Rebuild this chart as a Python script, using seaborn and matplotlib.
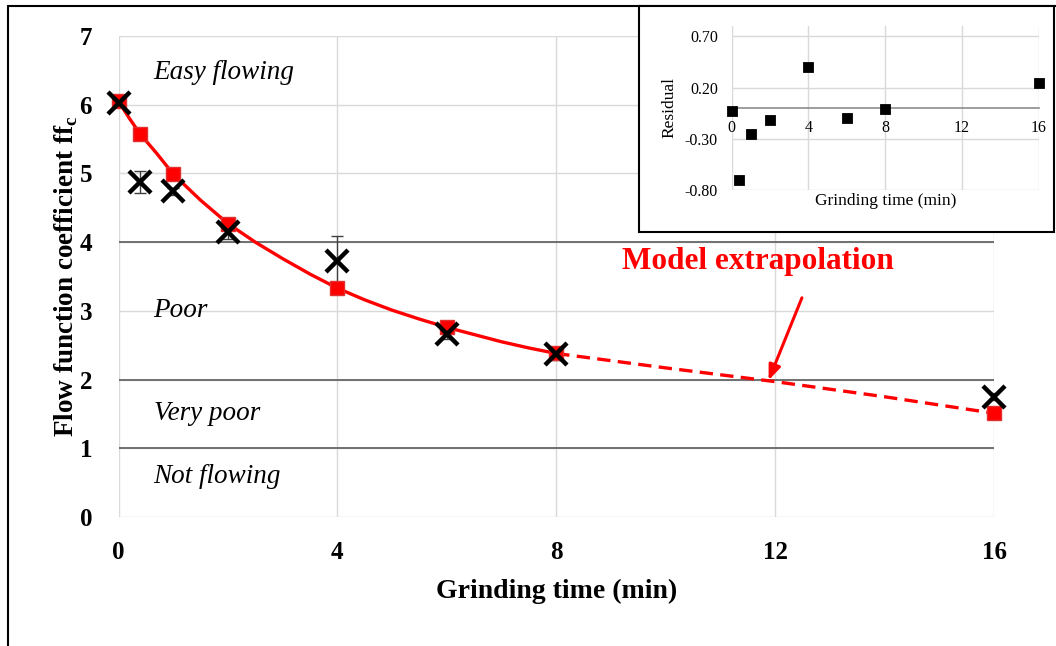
import matplotlib
matplotlib.use("Agg")
import matplotlib.pyplot as plt
from matplotlib.lines import Line2D
from matplotlib.patches import Rectangle
import seaborn as sns
import pandas as pd

# Datos
time_min = [0, 0.4, 1, 2, 4, 6, 8, 16]
ffc_measured = [6.02, 4.87, 4.74, 4.15, 3.73, 2.66, 2.37, 1.75]
ffc_err = [0.05, 0.16, 0.05, 0.10, 0.36, 0.07, 0.08, 0.05]
ffc_model = [6.05, 5.57, 4.99, 4.27, 3.33, 2.76, 2.38, 1.51]
residual = [-0.03, -0.70, -0.25, -0.12, 0.40, -0.10, -0.01, 0.24]

# curva del modelo y extrapolación
curve_t = [0, 0.2, 0.4, 0.7, 1, 1.5, 2, 2.5, 3, 3.5, 4, 4.5, 5, 5.5, 6, 6.5, 7, 7.5, 8]
curve_ffc = [6.05, 5.80, 5.57, 5.29, 4.99, 4.61, 4.27, 4.00, 3.76, 3.535, 3.33,
             3.16, 3.01, 2.88, 2.76, 2.655, 2.55, 2.46, 2.38]
extrap_t = [8, 10, 12, 14, 16]
extrap_ffc = [2.38, 2.17, 1.97, 1.75, 1.51]

regions = ["Easy flowing", "Poor", "Very poor", "Not flowing"]
region_y = [6.47, 3.01, 1.51, 0.59]
limits = [1, 2, 4]

df = pd.DataFrame({"t": time_min, "ffc": ffc_measured, "err": ffc_err,
                   "model": ffc_model, "res": residual})

sns.set_theme(style="white")
plt.rcParams["font.family"] = ["Liberation Serif", "DejaVu Serif"]
plt.rcParams["mathtext.fontset"] = "custom"
plt.rcParams["mathtext.rm"] = "Liberation Serif:bold"
for k in ["text.color", "axes.labelcolor", "xtick.color", "ytick.color"]:
    plt.rcParams[k] = "black"

fig = plt.figure(figsize=(10.56, 6.46), dpi=100)
W, H = 1056, 646
ax = fig.add_axes([118.5 / W, 1 - 517 / H, (994 - 118.5) / W, 481 / H])

ax.set_xlim(0, 16)
ax.set_ylim(0, 7)
ax.set_xticks([0, 4, 8, 12, 16])
ax.set_yticks(range(8))
ax.grid(True, color="#d9d9d9", lw=1.0)
for s in ax.spines.values():
    s.set_visible(False)
for y in limits:
    ax.axhline(y, color="#707070", lw=1.4, zorder=1)
ax.tick_params(length=0, labelsize=18)
ax.tick_params(axis="x", pad=17)
ax.tick_params(axis="y", pad=19)
for lab in ax.get_xticklabels() + ax.get_yticklabels():
    lab.set_fontweight("bold")

for name, y in zip(regions, region_y):
    ax.text(0.64, y, name, fontsize=19.5, style="italic", va="center", ha="left")

ax.errorbar(df["t"], df["ffc"], yerr=df["err"], fmt="none", ecolor="#404040",
            elinewidth=1.0, capsize=4, capthick=1.0, zorder=3)
sns.lineplot(x=curve_t, y=curve_ffc, ax=ax, color="red", lw=2.4, zorder=4)
ax.plot(extrap_t, extrap_ffc, color="red", lw=2.4, ls=(0, (4, 2.2)), zorder=4)
ax.plot(df["t"], df["model"], ls="none", marker="s", ms=10, color="red",
        mec="#e03030", zorder=5, clip_on=False)
ax.plot(df["t"], df["ffc"], ls="none", marker="x", ms=16, mew=3.2, color="black",
        zorder=6, clip_on=False)

ax.text(11.68, 3.72, "Model extrapolation", color="red", fontsize=22.5,
        fontweight="bold", ha="center", va="center")
ax.annotate("", xy=(11.88, 1.99), xytext=(12.49, 3.19),
            arrowprops=dict(arrowstyle="-|>,head_length=0.5,head_width=0.2",
                            color="red", lw=2.2, mutation_scale=18,
                            shrinkA=0, shrinkB=0))

ax.set_xlabel("Grinding time (min)", fontsize=20, fontweight="bold")
ax.set_ylabel(r"Flow function coefficient ff$_{\mathrm{c}}$", fontsize=19.5,
              fontweight="bold")
ax.xaxis.set_label_coords(0.5, (517 - 579) / 481)
ax.yaxis.set_label_coords((80 - 118.5) / 875.5, 0.5)

# marco de la figura
fig.add_artist(Line2D([8 / W, 8 / W], [0, 1 - 6 / H], color="black", lw=1.5))
fig.add_artist(Line2D([8 / W, 1], [1 - 6 / H, 1 - 6 / H], color="black", lw=1.5))

# recuadro de residuos
box = Rectangle((639 / W, 1 - 232 / H), (1054 - 639) / W, (232 - 6) / H,
                transform=fig.transFigure, facecolor="white", edgecolor="black",
                lw=1.5, zorder=5)
fig.add_artist(box)

ins = fig.add_axes([731.7 / W, 1 - 190 / H, 307 / W, 164 / H])
ins.set_zorder(10)
ins.patch.set_alpha(0)
ins.set_xlim(0, 16)
ins.set_ylim(-0.8, 0.8)
ins.set_xticks([0, 4, 8, 12, 16])
ins.set_yticks([-0.8, -0.3, 0.2, 0.7])
ins.set_yticklabels(["-0.80", "-0.30", "0.20", "0.70"])
ins.grid(True, color="#d9d9d9", lw=1.0)
for k in ["top", "right", "left"]:
    ins.spines[k].set_visible(False)
ins.spines["bottom"].set_position(("data", 0))
ins.spines["bottom"].set_color("#8c8c8c")
ins.spines["bottom"].set_linewidth(1.2)
ins.tick_params(length=0, labelsize=11.5)
ins.tick_params(axis="x", pad=9)
ins.tick_params(axis="y", pad=10)
sns.scatterplot(data=df, x="t", y="res", ax=ins, marker="s", s=55,
                color="black", edgecolor="black", zorder=5, clip_on=False)
ins.set_xlabel("Grinding time (min)", fontsize=12.5)
ins.set_ylabel("Residual", fontsize=12.5)
ins.xaxis.set_label_coords(0.5, (190 - 193) / 164)
ins.yaxis.set_label_coords((677 - 731.7) / 307, 0.5)

fig.savefig("out.png", dpi=100)
